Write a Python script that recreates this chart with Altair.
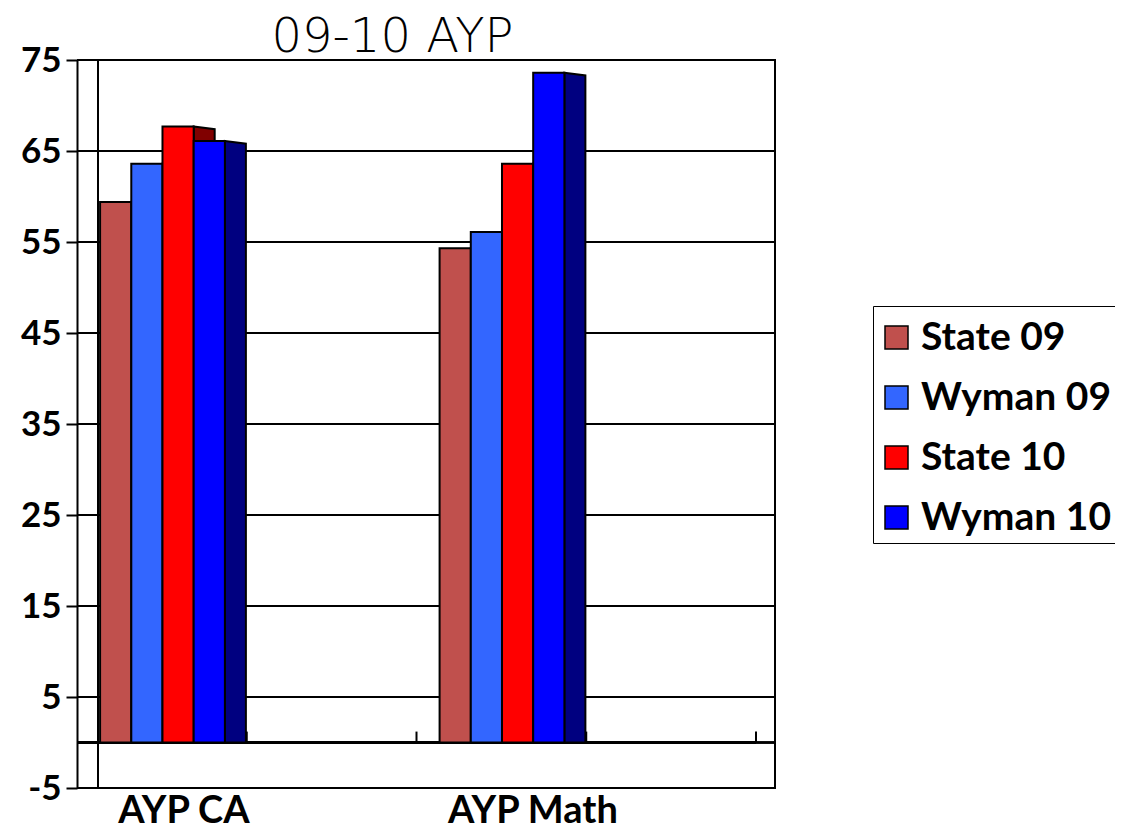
import altair as alt
import pandas as pd

# ---------------- data ----------------
categories = ["AYP CA", "AYP Math"]
series = ["State 09", "Wyman 09", "State 10", "Wyman 10"]
values_ca = [59.4, 63.6, 67.7, 66.1]
values_math = [54.3, 56.1, 63.6, 73.6]
y_ticks = [-5, 5, 15, 25, 35, 45, 55, 65, 75]
title_text = ["09-10 AYP"]

# ---------------- styles / layout ----------------
front_colors = ["#C0504D", "#3366FF", "#FF0000", "#0000FF"]
side_colors = ["#6E2624", "#1F3D99", "#800000", "#000080"]
W, H = 677, 728
UNIT_PX = 339.5            # pixels per category on the front plane
DEPTH = 21 / UNIT_PX       # 3-D depth of bars / wall offset
BAR_W = 31.2 / UNIT_PX
BAR_START = 0.068
SLANT = 0.3
LABEL_POS = [0.315, 0.343]
X_DOMAIN = [DEPTH, DEPTH + W / UNIT_PX]

xs = alt.Scale(domain=X_DOMAIN, nice=False, zero=False)
ys = alt.Scale(domain=[-5, 75], nice=False, zero=False)
y_axis = alt.Axis(values=y_ticks, offset=21, grid=False, tickSize=11, tickWidth=2,
                  tickColor="black", domainColor="black", domainWidth=2,
                  labelFont="Lato", labelFontSize=35, labelFontWeight="bold",
                  labelColor="black", labelPadding=5, title=None,
                  labelExpr="'' + datum.value")

rows = []
for ci, (cat, vals) in enumerate(zip(categories, [values_ca, values_math])):
    for si, (s, v) in enumerate(zip(series, vals)):
        x0 = ci + BAR_START + si * BAR_W
        rows.append(dict(category=cat, series=s, value=v, x0=x0, x1=x0 + BAR_W,
                         key=f"{cat}-{s}"))
bars = pd.DataFrame(rows)

side_rows = []
for r in rows:
    side_rows.append(dict(key=r["key"], series=r["series"], x=r["x1"], value=r["value"]))
    side_rows.append(dict(key=r["key"], series=r["series"], x=r["x1"] + DEPTH,
                          value=r["value"] - SLANT))
sides = pd.DataFrame(side_rows)

grid_df = pd.DataFrame({"value": y_ticks})
floor_ticks = pd.DataFrame({"x": [p for ci in range(len(categories)) for p in (ci + 0.5, ci + 1.0)]})
label_df = pd.DataFrame({"category": categories,
                         "x": [ci + LABEL_POS[ci] for ci in range(len(categories))]})
title_df = pd.DataFrame({"t": title_text})

Y = lambda f="value:Q": alt.Y(f, scale=ys, axis=y_axis)

grid = alt.Chart(grid_df).mark_rule(color="black", strokeWidth=2).encode(
    y=Y(), x=alt.value(-21), x2=alt.value(W))

zero_back = alt.Chart(grid_df).mark_rule(color="black", strokeWidth=1.5).encode(
    y=alt.datum(0, scale=ys, axis=y_axis), x=alt.value(0), x2=alt.value(W))

floor = alt.Chart(grid_df).mark_rule(color="black", strokeWidth=3).encode(
    y=alt.datum(0, scale=ys, axis=y_axis),
    x=alt.datum(0, scale=xs, axis=None),
    x2=alt.datum(len(categories)))

side = alt.Chart(sides).mark_area(stroke="black", strokeWidth=2, opacity=1).encode(
    x=alt.X("x:Q", scale=xs, axis=None),
    y=Y(),
    y2=alt.datum(0),
    detail="key:N",
    color=alt.Color("series:N", scale=alt.Scale(domain=series, range=side_colors), legend=None),
)

front = alt.Chart(bars).mark_rect(stroke="black", strokeWidth=2).encode(
    x=alt.X("x0:Q", scale=xs, axis=None),
    x2="x1:Q",
    y=Y(),
    y2=alt.datum(0),
    color=alt.Color("series:N", sort=series,
                    scale=alt.Scale(domain=series, range=front_colors),
                    legend=alt.Legend(title=" ", titleFontSize=4, titlePadding=3,
                                      orient="none", legendX=775, legendY=246,
                                      symbolType="square", symbolSize=529,
                                      symbolOffset=-1,
                                      symbolStrokeColor="black", symbolStrokeWidth=1.5,
                                      labelFont="Lato", labelFontSize=39,
                                      labelFontWeight="bold", labelColor="black",
                                      labelLimit=600, labelOffset=5, rowPadding=20,
                                      padding=5, strokeColor="black", fillColor="white")),
)

fticks = alt.Chart(floor_ticks).mark_rule(color="black", strokeWidth=2).encode(
    x=alt.X("x:Q", scale=xs, axis=None),
    y=alt.datum(0, scale=ys, axis=y_axis),
    y2=alt.datum(1.2))

labels = alt.Chart(label_df).mark_text(font="Lato", fontSize=38, fontWeight="bold",
                                       color="black", baseline="alphabetic",
                                       align="center").encode(
    x=alt.X("x:Q", scale=xs, axis=None), y=alt.value(H + 35), text="category:N")

title = alt.Chart(title_df).mark_text(font="DejaVu Sans", fontSize=48, fontWeight=300,
                                      color="black", baseline="alphabetic",
                                      align="center").encode(
    x=alt.value(W / 2 - 44), y=alt.value(-8), text="t:N")

chart = alt.layer(grid, zero_back, floor, side, front, fticks, labels, title).resolve_scale(
    color="independent"
).properties(
    width=W, height=H,
    autosize=alt.AutoSizeParams(type="none"),
    padding={"left": 90, "top": 52, "right": 340, "bottom": 44},
).configure_view(stroke="black", strokeWidth=2)

chart.save("out.html", embed_options={"renderer": "svg", "actions": False})
